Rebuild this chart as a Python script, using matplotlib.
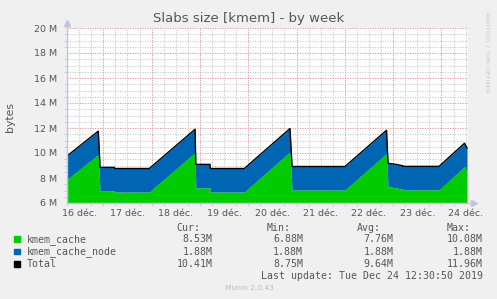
"""Munin 'Slabs size [kmem] - by week' graph, redrawn with matplotlib."""
import matplotlib
matplotlib.use("Agg")
import matplotlib.pyplot as plt
import numpy as np
from matplotlib.patches import Rectangle

# time in days since 16 déc. 00:00, values in M bytes
days = [0.248, 0.896, 0.932, 1.228, 1.232, 1.952, 2.899, 2.915, 3.209, 3.213,
        3.919, 4.865, 4.907, 6.004, 6.863, 6.894, 7.05, 7.199, 7.203, 7.95,
        8.478, 8.53]
kmem_cache = [7.88, 9.87, 6.97, 6.97, 6.88, 6.88, 10.02, 7.21, 7.21, 6.88,
              6.88, 10.08, 7.04, 7.04, 9.94, 7.30, 7.22, 7.10, 7.05, 7.05,
              8.90, 8.53]
kmem_cache_node = [1.88] * len(days)

day_labels = ["16 déc.", "17 déc.", "18 déc.", "19 déc.", "20 déc.",
              "21 déc.", "22 déc.", "23 déc.", "24 déc."]
y_ticks = [6, 8, 10, 12, 14, 16, 18, 20]

legend_names = ["kmem_cache", "kmem_cache_node", "Total"]
legend_colors = ["#00CC00", "#0066B3", "#000000"]
cur = ["8.53M", "1.88M", "10.41M"]
vmin = ["6.88M", "1.88M", "8.75M"]
vavg = ["7.76M", "1.88M", "9.64M"]
vmax = ["10.08M", "1.88M", "11.96M"]

BG = "#F0F0F0"
TXT = "#555555"
AXC = "#BFC4E0"
W, H = 497, 299

fig = plt.figure(figsize=(W / 100, H / 100), dpi=100, facecolor=BG)
ax = fig.add_axes([67 / W, 1 - 203 / H, 401 / W, 175 / H])
ax.set_facecolor("white")

x = np.array(days)
g = np.array(kmem_cache)
total = g + np.array(kmem_cache_node)

# ---- grid ------------------------------------------------------------ #
dot = (0, (1.5, 1.5))
for v in np.arange(6, 20.01, 0.5):
    major = v % 2 == 0
    ax.axhline(v, color="#E08C8C" if major else "#C4C4C4", lw=0.6, ls=dot,
               zorder=0)
for d in np.arange(0, 9.01, 0.25):
    major = d % 1 == 0
    ax.axvline(d, color="#E08C8C" if major else "#C4C4C4", lw=0.6, ls=dot,
               zorder=0)

# ---- stacked areas + total line -------------------------------------- #
ax.fill_between(x, 0, g, color=legend_colors[0], lw=0, zorder=2)
ax.fill_between(x, g, total, color=legend_colors[1], lw=0, zorder=2)
ax.plot(x, total, color="black", lw=1.0, zorder=3)

for s in ax.spines.values():
    s.set_visible(False)
ax.plot([0, 0], [0, 1.03], transform=ax.transAxes, color=AXC, lw=1,
        clip_on=False, zorder=4)
ax.plot([0], [1.03], transform=ax.transAxes, marker="^", ms=4, color=AXC,
        clip_on=False, zorder=4)
ax.plot([0, 1.015], [0, 0], transform=ax.transAxes, color=AXC, lw=1,
        clip_on=False, zorder=4)
ax.plot([1.015], [0], transform=ax.transAxes, marker=">", ms=4, color=AXC,
        clip_on=False, zorder=4)

ax.set_yticks(y_ticks, [f"{v} M" for v in y_ticks])
ax.set_yticks(np.arange(6, 20.01, 0.5), minor=True)
ax.set_xticks(np.arange(len(day_labels)) + 0.5, day_labels)
ax.set_xticks(np.arange(0, 9.01, 0.25), minor=True)
ax.set_xlim(0.248, 8.55)
ax.set_ylim(6, 20)
ax.tick_params(axis="both", which="major", labelsize=6.8, labelcolor=TXT,
               color=AXC, length=0)
ax.tick_params(axis="y", which="major", pad=7)
ax.tick_params(axis="x", which="major", pad=4)
ax.tick_params(axis="both", which="minor", color=AXC, length=2, width=0.6)

ax.set_ylabel("bytes", fontsize=7.8, color=TXT)
ax.yaxis.set_label_coords(-52 / 401, 0.49)

fig.text(248.5 / W, 1 - 18.5 / H, "Slabs size [kmem] - by week", ha="center",
         va="center", fontsize=9.5, color=TXT)
fig.text(487 / W, 1 - 52 / H, "RRDTOOL / TOBI OETIKER", rotation=-90,
         ha="center", va="center", fontsize=4.5, color="#C8C8C8")

# ---- legend ---------------------------------------------------------- #
mono = dict(family="DejaVu Sans Mono", fontsize=7.1, color=TXT, va="center")
heads = ["Cur:", "Min:", "Avg:", "Max:"]
head_x = [176.7, 266.7, 356.7, 446.7]
val_x = [212.5, 303.0, 393.3, 482.7]
for hx, h in zip(head_x, heads):
    fig.text(hx / W, 1 - 228.3 / H, h, ha="left", **mono)
row_y = [239.3, 251.7, 264.0]
for i, name in enumerate(legend_names):
    yy = 1 - row_y[i] / H
    fig.add_artist(Rectangle((14 / W, yy - 2.6 / H), 5.5 / W, 5.5 / H,
                             transform=fig.transFigure,
                             color=legend_colors[i]))
    fig.text(26.7 / W, yy, name, ha="left", **mono)
    for vx, col in zip(val_x, [cur, vmin, vavg, vmax]):
        fig.text(vx / W, yy, col[i], ha="right", **mono)
fig.text(482.7 / W, 1 - 276 / H, "Last update: Tue Dec 24 12:30:50 2019",
         ha="right", **mono)
fig.text(249 / W, 1 - 287.7 / H, "Munin 2.0.43", ha="center", va="center",
         fontsize=5.4, color="#BBBBBB")

fig.savefig("out.png", dpi=100, facecolor=BG)
